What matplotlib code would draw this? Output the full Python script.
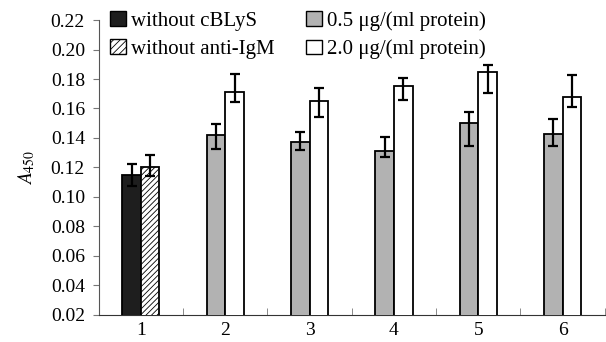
import numpy as np
import matplotlib
matplotlib.use('Agg')
import matplotlib.pyplot as plt
from matplotlib.patches import Patch

plt.rcParams['font.family'] = ['Liberation Serif', 'DejaVu Serif']
plt.rcParams['mathtext.fontset'] = 'stix'
plt.rcParams['hatch.color'] = '#555555'
plt.rcParams['hatch.linewidth'] = 0.6

groups = ['1', '2', '3', '4', '5', '6']

# group 1 controls
ctrl_labels = ['without cBLyS', 'without anti-IgM']
ctrl_vals = [0.115, 0.120]
ctrl_err_lo = [0.0073, 0.0057]
ctrl_err_hi = [0.0076, 0.0085]

# groups 2-6
low_vals = [0.142, 0.137, 0.131, 0.150, 0.143]
low_err_lo = [0.0095, 0.005, 0.004, 0.0154, 0.0084]
low_err_hi = [0.0077, 0.007, 0.010, 0.0074, 0.0099]

high_vals = [0.171, 0.165, 0.175, 0.185, 0.168]
high_err_lo = [0.0064, 0.0106, 0.009, 0.0147, 0.0067]
high_err_hi = [0.0122, 0.0087, 0.0057, 0.0046, 0.0147]

dose_labels = ['0.5 \u03bcg/(ml protein)', '2.0 \u03bcg/(ml protein)']

fig = plt.figure(figsize=(6.06, 3.42), dpi=100)
ax = fig.add_axes([0.163, 0.079, 0.835, 0.8625])

w = 0.22
x = np.arange(len(groups))
ekw = dict(fmt='none', ecolor='black', elinewidth=1.6, capsize=3.8, capthick=1.6, zorder=4)

ax.bar(x[0] - w / 2, ctrl_vals[0], w, color='#1e1e1e', edgecolor='black', linewidth=1.3, zorder=3)
ax.bar(x[0] + w / 2, ctrl_vals[1], w, color='white', edgecolor='black', linewidth=1.3,
       hatch='//////', zorder=3)
ax.errorbar([x[0] - w / 2, x[0] + w / 2], ctrl_vals, yerr=[ctrl_err_lo, ctrl_err_hi], **ekw)

xs = x[1:]
ax.bar(xs - w / 2, low_vals, w, color='#b2b2b2', edgecolor='black', linewidth=1.3, zorder=3)
ax.bar(xs + w / 2, high_vals, w, color='white', edgecolor='black', linewidth=1.3, zorder=3)
ax.errorbar(xs - w / 2, low_vals, yerr=[low_err_lo, low_err_hi], **ekw)
ax.errorbar(xs + w / 2, high_vals, yerr=[high_err_lo, high_err_hi], **ekw)

ax.set_xlim(-0.5, len(groups) - 0.5)
ax.set_ylim(0.02, 0.22)
ax.set_yticks(np.arange(0.02, 0.2201, 0.02))
ax.set_yticklabels(['%.2f' % v for v in np.arange(0.02, 0.2201, 0.02)])
ax.set_xticks(x)
ax.set_xticklabels(groups)
ax.set_xticks(np.arange(-0.5, len(groups), 1.0), minor=True)
ax.tick_params(axis='x', which='major', length=0, pad=5, labelsize=14)
ax.tick_params(axis='x', which='minor', direction='in', length=5, color='#777777')
ax.tick_params(axis='y', direction='out', length=4, color='#777777', labelsize=14, pad=6)

for s in ['top', 'right']:
    ax.spines[s].set_visible(False)
ax.spines['left'].set_color('#555555')
ax.spines['bottom'].set_color('#333333')

ax.set_ylabel(r'$\mathit{A}_{\mathrm{450}}$', fontsize=14, labelpad=10)

handles = [Patch(facecolor='#1e1e1e', edgecolor='black'),
           Patch(facecolor='white', edgecolor='black', hatch='/////'),
           Patch(facecolor='#b2b2b2', edgecolor='black'),
           Patch(facecolor='white', edgecolor='black')]
labels = ctrl_labels + dose_labels
leg = fig.legend(handles, labels, loc='upper left', bbox_to_anchor=(110 / 606, 1 - 11 / 342),
                 ncol=2, frameon=False, fontsize=15, handlelength=0.77, handleheight=0.67,
                 handletextpad=0.25, columnspacing=1.5, labelspacing=0.42, borderpad=0,
                 borderaxespad=0)

plt.savefig('out.png', dpi=100)
